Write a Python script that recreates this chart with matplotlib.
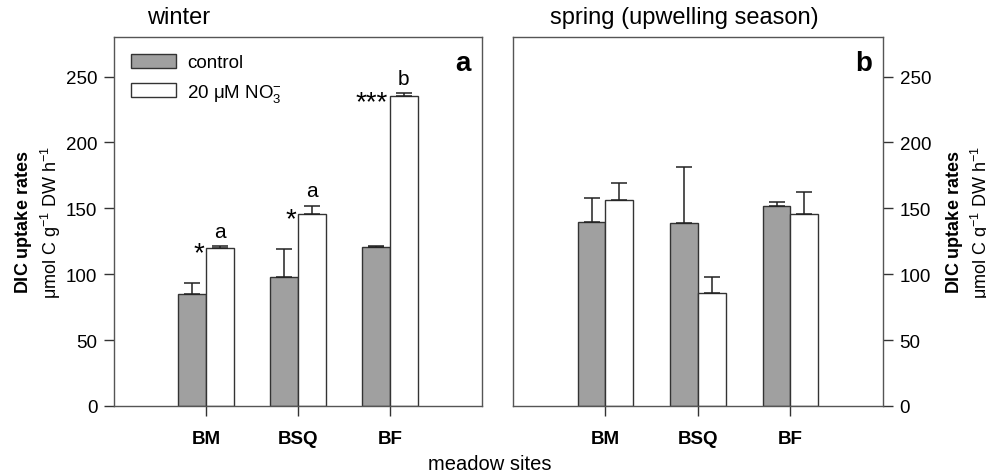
import matplotlib
matplotlib.use("Agg")
import matplotlib.pyplot as plt
import numpy as np

plt.rcParams['font.family'] = ['Liberation Sans', 'DejaVu Sans']
plt.rcParams['mathtext.fontset'] = 'custom'
plt.rcParams['mathtext.rm'] = 'Liberation Sans'
plt.rcParams['mathtext.it'] = 'Liberation Sans:italic'
plt.rcParams['mathtext.bf'] = 'Liberation Sans:bold'

sites = ["BM", "BSQ", "BF"]
winter_control = [85, 98, 120.5]
winter_control_err = [8, 21, 1]
winter_no3 = [120, 146, 235]
winter_no3_err = [1.5, 6, 2.5]
spring_control = [139.5, 139, 152]
spring_control_err = [18.5, 42, 2.5]
spring_no3 = [156, 86, 146]
spring_no3_err = [13.5, 12, 16.5]
winter_stars = ["*", "*", "***"]
winter_letters = ["a", "a", "b"]
yticks = [0, 50, 100, 150, 200, 250]

fig = plt.figure(figsize=(9.87, 4.77), dpi=100)
W, H = 987, 477
ax1 = fig.add_axes([114 / W, 1 - 407 / H, 368 / W, 369 / H])
ax2 = fig.add_axes([513 / W, 1 - 407 / H, 370 / W, 369 / H])

x = np.arange(1, 4)
bw = 0.3
edge = '#333333'
gray = '#a0a0a0'
ekw = dict(ecolor='#222222', capsize=6, elinewidth=1.1, capthick=1.1)

def draw(ax, ctrl, cerr, no3, nerr):
    ax.bar(x - bw / 2, ctrl, bw, color=gray, edgecolor=edge, linewidth=1.0,
           yerr=[np.zeros(3), cerr], error_kw=ekw, label="control", zorder=2)
    ax.bar(x + bw / 2, no3, bw, color='white', edgecolor=edge, linewidth=1.0,
           yerr=[np.zeros(3), nerr], error_kw=ekw, label="20 \u03bcM NO$_3^{-}$", zorder=2)
    ax.set_xlim(0, 4)
    ax.set_ylim(0, 280)
    ax.set_xticks(x)
    ax.set_xticklabels(sites, fontweight='bold', fontsize=13.5)
    ax.set_yticks(yticks)
    ax.tick_params(axis='both', direction='out', length=7, width=1, colors='#333333',
                   labelsize=13.5, labelcolor='black', pad=5)
    ax.tick_params(axis='x', pad=10)
    for s in ax.spines.values():
        s.set_color('#555555')
        s.set_linewidth(1.0)

draw(ax1, winter_control, winter_control_err, winter_no3, winter_no3_err)
draw(ax2, spring_control, spring_control_err, spring_no3, spring_no3_err)

ax2.yaxis.tick_right()
ax2.yaxis.set_label_position('right')

ylabel = "$\\bf{DIC\\ uptake\\ rates}$\n\u03bcmol C g$^{-1}$ DW h$^{-1}$"
ax1.set_ylabel(ylabel, fontsize=13, labelpad=2, linespacing=1.25)
ax2.set_ylabel(ylabel, fontsize=13, labelpad=9, linespacing=1.25, rotation=90)

# annotations winter
for i in range(3):
    top = winter_no3[i] + winter_no3_err[i]
    ax1.text(x[i] + bw / 2, top + 4, winter_letters[i], ha='center', va='bottom', fontsize=15)
    ax1.text(x[i] - 0.02, winter_no3[i] - 14, winter_stars[i], ha='right', va='bottom', fontsize=20)

ax1.text(0.97, 0.93, "a", transform=ax1.transAxes, ha='right', va='center',
         fontsize=20, fontweight='bold')
ax2.text(0.97, 0.93, "b", transform=ax2.transAxes, ha='right', va='center',
         fontsize=20, fontweight='bold')

ax1.text(0.09, 1.025, "winter", transform=ax1.transAxes, ha='left', va='bottom', fontsize=17)
ax2.text(0.10, 1.025, "spring (upwelling season)", transform=ax2.transAxes, ha='left',
         va='bottom', fontsize=17)

leg = ax1.legend(loc='upper left', bbox_to_anchor=(0.0, 1.0), frameon=False, fontsize=13.5,
                 handlelength=2.4, handleheight=0.75, labelspacing=0.55, handletextpad=0.6)

fig.text(490 / W, 1 - 465 / H, "meadow sites", ha='center', va='center', fontsize=14.5)

fig.savefig("out.png", dpi=100)
